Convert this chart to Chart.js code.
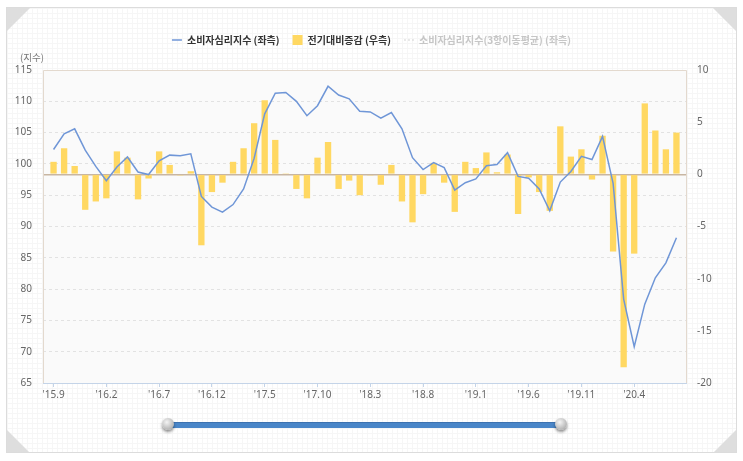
<!DOCTYPE html>
<html>
<head>
<meta charset="utf-8">
<script src="https://cdn.jsdelivr.net/npm/chart.js@4/dist/chart.umd.min.js"></script>
<style>
  body { margin: 0; background: #fff; }
  #wrap { position: relative; width: 743px; height: 461px; overflow: hidden; }
  #card {
    position: absolute; left: 6px; top: 7px; width: 729px; height: 444px;
    border: 1px solid #dcdcdc;
    background-color: #fff;
    background-image: linear-gradient(#f6f6f6 1px, transparent 1px),
                      linear-gradient(90deg, #f6f6f6 1px, transparent 1px);
    background-size: 5px 5px;
  }
  .corner { position: absolute; width: 0; height: 0; }
  #c { position: absolute; left: 0; top: 0; }
  .knob {
    position: absolute; width: 12px; height: 12px; border-radius: 50%;
    background: radial-gradient(circle at 40% 35%, #f4f4f4, #b5b5b5 70%, #8c8c8c);
    box-shadow: 0 2px 3px rgba(0,0,0,0.45);
  }
</style>
</head>
<body>
<div id="wrap">
  <div id="card"></div>
  <div class="corner" style="left:7px;top:8px;border-top:23px solid #dedede;border-right:23px solid transparent;"></div>
  <div class="corner" style="right:7px;top:8px;border-top:23px solid #dedede;border-left:23px solid transparent;"></div>
  <div class="corner" style="left:7px;bottom:9px;border-bottom:22px solid #dedede;border-right:22px solid transparent;"></div>
  <div class="corner" style="right:7px;bottom:9px;border-bottom:22px solid #dedede;border-left:22px solid transparent;"></div>
  <canvas id="c" width="743" height="461"></canvas>
  <div style="position:absolute;left:170px;top:422px;width:391px;height:5px;background:#4a86c8;border-top:1px solid #3d72b0;"></div>
  <div class="knob" style="left:162px;top:418px;"></div>
  <div class="knob" style="left:555px;top:418px;"></div>
</div>
<script>
// 2015.9 ~ 2020.8, monthly
let tickLabels = ["'15.9", "'16.2", "'16.7", "'16.12", "'17.5", "'17.10", "'18.3", "'18.8", "'19.1", "'19.6", "'19.11", "'20.4"]

// 소비자심리지수 (좌측)
let cssi = [102.3, 104.8, 105.6, 102.2, 99.6, 97.3, 99.5, 101.1, 98.7, 98.3,
            100.5, 101.4, 101.3, 101.6, 94.8, 93.1, 92.3, 93.5, 96.0, 100.9,
            108.0, 111.3, 111.4, 110.0, 107.7, 109.3, 112.4, 111.0, 110.4, 108.4,
            108.3, 107.3, 108.2, 105.6, 101.0, 99.1, 100.2, 99.4, 95.8, 97.0,
            97.6, 99.7, 99.9, 101.8, 98.0, 97.7, 96.0, 92.5, 97.1, 98.8,
            101.2, 100.7, 104.4, 96.9, 78.4, 70.8, 77.6, 81.8, 84.2, 88.2]

// 전기대비증감 (우측)
let change = [1.2, 2.5, 0.8, -3.4, -2.6, -2.3, 2.2, 1.6, -2.4, -0.4,
              2.2, 0.9, -0.1, 0.3, -6.8, -1.7, -0.8, 1.2, 2.5, 4.9,
              7.1, 3.3, 0.1, -1.4, -2.3, 1.6, 3.1, -1.4, -0.6, -2.0,
              -0.1, -1.0, 0.9, -2.6, -4.6, -1.9, 1.1, -0.8, -3.6, 1.2,
              0.6, 2.1, 0.2, 1.9, -3.8, -0.3, -1.7, -3.5, 4.6, 1.7,
              2.4, -0.5, 3.7, -7.4, -18.5, -7.6, 6.8, 4.2, 2.4, 4.0]

let tickFont = { family: 'Noto Sans', size: 10 }

// plot background, frame and the "(지수)" label
const frame = {
    id: 'frame',
    beforeDraw(chart) {
        const a = chart.chartArea, ctx = chart.ctx
        ctx.save()
        ctx.fillStyle = '#fafafa'
        ctx.fillRect(a.left, a.top, a.right - a.left, a.bottom - a.top)
        ctx.restore()
    },
    afterDraw(chart) {
        const a = chart.chartArea, ctx = chart.ctx
        ctx.save()
        ctx.lineWidth = 1
        ctx.strokeStyle = '#e3d9ce'
        ctx.beginPath()
        ctx.moveTo(a.left + 0.5, a.bottom)
        ctx.lineTo(a.left + 0.5, a.top + 0.5)
        ctx.lineTo(a.right - 0.5, a.top + 0.5)
        ctx.lineTo(a.right - 0.5, a.bottom)
        ctx.stroke()
        ctx.strokeStyle = '#c4d4e8'
        ctx.beginPath()
        ctx.moveTo(a.left, a.bottom + 0.5)
        ctx.lineTo(a.right, a.bottom + 0.5)
        ctx.stroke()
        ctx.fillStyle = '#777'
        ctx.font = '9.5px "Noto Sans CJK KR"'
        ctx.textBaseline = 'middle'
        ctx.fillText('(지수)', 20, 57)
        ctx.restore()
    }
}

// empty box between the legend and the plot
const spacer = {
    id: 'spacer',
    beforeInit(chart) {
        Chart.layouts.addBox(chart, {
            position: 'top', weight: 0, fullSize: true,
            options: {},
            width: 0, height: 15,
            isHorizontal: () => true,
            update(maxWidth) { this.width = maxWidth; this.height = 15 },
            draw() {}
        })
    }
}

var ctx = document.getElementById('c').getContext('2d')
var chart = new Chart(ctx, {
    type: 'bar',
    data: {
        datasets: [
            {
                type: 'line',
                label: '소비자심리지수 (좌측)',
                data: cssi.map((v, i) => ({ x: i, y: v })),
                borderColor: '#6f96d7',
                borderWidth: 1.5,
                pointRadius: 0,
                tension: 0,
                yAxisID: 'y'
            },
            {
                label: '전기대비증감 (우측)',
                data: change.map((v, i) => ({ x: i, y: v })),
                backgroundColor: '#ffd862',
                yAxisID: 'y1',
                categoryPercentage: 0.8,
                barPercentage: 0.75
            },
            {
                type: 'line',
                label: '소비자심리지수(3항이동평균) (좌측)',
                data: [],
                hidden: true,
                borderColor: '#cccccc',
                yAxisID: 'y'
            }
        ]
    },
    options: {
        responsive: false,
        animation: false,
        layout: { padding: { top: 22, bottom: 58 } },
        plugins: {
            tooltip: { enabled: false },
            legend: {
                position: 'top',
                labels: {
                    usePointStyle: true,
                    pointStyleWidth: 10,
                    boxHeight: 10,
                    padding: 13,
                    font: { family: 'Noto Sans CJK KR', size: 10, weight: 'bold' },
                    generateLabels: function (chart) {
                        return [
                            { text: '소비자심리지수 (좌측)', pointStyle: 'line', strokeStyle: '#6f96d7', lineWidth: 1.5, fillStyle: '#6f96d7', fontColor: '#333', datasetIndex: 0 },
                            { text: '전기대비증감 (우측)', pointStyle: 'rect', strokeStyle: '#ffd862', lineWidth: 0, fillStyle: '#ffd862', fontColor: '#333', datasetIndex: 1 },
                            { text: '소비자심리지수(3항이동평균) (좌측)', pointStyle: 'line', strokeStyle: '#d2d2d2', lineWidth: 1, lineDash: [2, 2], fillStyle: '#d2d2d2', fontColor: '#c6c6c6', datasetIndex: 2 }
                        ]
                    }
                }
            }
        },
        scales: {
            x: {
                type: 'linear',
                min: -1,
                max: 60,
                offset: false,
                afterBuildTicks: s => { s.ticks = tickLabels.map((t, k) => ({ value: k * 5 })) },
                ticks: {
                    autoSkip: false,
                    maxRotation: 0,
                    padding: 2,
                    color: '#666',
                    font: tickFont,
                    callback: v => tickLabels[v / 5]
                },
                grid: { offset: false, drawOnChartArea: false, tickLength: 4, color: '#c4d4e8' },
                border: { display: false }
            },
            y: {
                position: 'left',
                min: 65,
                max: 115,
                afterFit: s => { s.width = 43 },
                ticks: { stepSize: 5, padding: 11, color: '#666', font: tickFont },
                grid: {
                    drawTicks: false,
                    color: c => (c.tick.value === 65 || c.tick.value === 115) ? 'rgba(0,0,0,0)' : '#e2e2e2'
                },
                border: { display: false, dash: [3, 3] }
            },
            y1: {
                position: 'right',
                min: -20,
                max: 10,
                afterFit: s => { s.width = 56 },
                ticks: { stepSize: 5, padding: 10, color: '#666', font: tickFont },
                grid: {
                    drawTicks: false,
                    lineWidth: 1.5,
                    color: c => c.tick.value === 0 ? '#c8b6a2' : 'rgba(0,0,0,0)'
                },
                border: { display: false }
            }
        }
    },
    plugins: [frame, spacer]
});
</script>
</body>
</html>
